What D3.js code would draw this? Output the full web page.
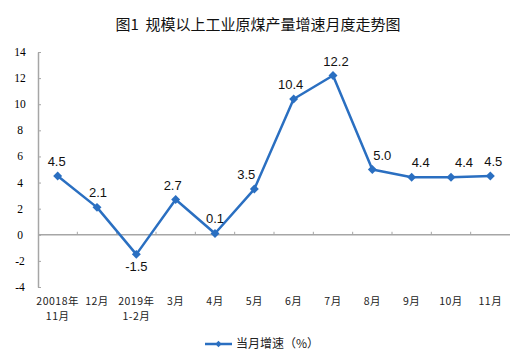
<!DOCTYPE html>
<html>
<head>
<meta charset="utf-8">
<script src="https://cdn.jsdelivr.net/npm/d3@7"></script>
<style>
  body { margin: 0; background: #fff; }
</style>
</head>
<body>
<div id="chart"></div>
<script>
// data
var months = ["20018年\n11月", "12月", "2019年\n1-2月", "3月", "4月", "5月", "6月", "7月", "8月", "9月", "10月", "11月"];
var growth = [4.5, 2.1, -1.5, 2.7, 0.1, 3.5, 10.4, 12.2, 5.0, 4.4, 4.4, 4.5];
var yTicks = [-4, -2, 0, 2, 4, 6, 8, 10, 12, 14];
var title = "图1  规模以上工业原煤产量增速月度走势图";
var seriesName = "当月增速（%）";

// where each value label sits relative to its point
var labelDx = [-1, 1, 0, -3, 0, -8, -3, 3, 10, 9, 13, 3];
var labelBelow = [false, false, true, false, false, false, false, false, false, false, false, false];

var W = 515, H = 362;
var margin = {left: 38, right: 5, top: 52, bottom: 75};
var blue = "#2a6fc1", grey = "#a6a6a6";

var svg = d3.select("#chart").append("svg")
    .attr("width", W)
    .attr("height", H);

// title
svg.append("text")
    .attr("x", 258)
    .attr("y", 30)
    .attr("text-anchor", "middle")
    .style("white-space", "pre")
    .style("font-family", "'Noto Sans CJK SC', sans-serif")
    .style("font-size", "15px")
    .style("font-weight", "normal")
    .attr("fill", "#111")
    .text(title);

var x = d3.scaleBand()
    .domain(months)
    .range([margin.left, W - margin.right]);

var y = d3.scaleLinear()
    .domain([-4, 14])
    .range([H - margin.bottom, margin.top]);

// y axis: grey line, ticks pointing inward
var yAxis = svg.append("g")
    .attr("transform", "translate(" + margin.left + ",0)")
    .call(d3.axisRight(y).tickValues(yTicks).tickSize(3).tickSizeOuter(0).tickFormat(""));
yAxis.select(".domain").attr("stroke", grey).attr("stroke-width", 1.5);
yAxis.selectAll(".tick line").attr("stroke", grey);

// y labels, serif like the original
svg.append("g").selectAll("text")
    .data(yTicks)
    .enter().append("text")
    .attr("x", 20)
    .attr("y", function(d) { return y(d); })
    .attr("dy", "0.35em")
    .attr("text-anchor", "middle")
    .style("font-family", "'Liberation Serif', serif")
    .style("font-size", "11.5px")
    .attr("fill", "#000")
    .text(function(d) { return d; });

// zero line with small tick marks at band edges
var zero = svg.append("g")
    .attr("transform", "translate(0," + y(0) + ")");
zero.append("line")
    .attr("x1", margin.left).attr("x2", W - margin.right)
    .attr("stroke", grey).attr("stroke-width", 1.5);
zero.selectAll(".zt")
    .data(months.slice(1))
    .enter().append("line")
    .attr("x1", function(d) { return x(d); })
    .attr("x2", function(d) { return x(d); })
    .attr("y1", 0).attr("y2", -3)
    .attr("stroke", grey);

// x labels under the plot, one text per line
var xLines = [];
months.forEach(function(m) {
    m.split("\n").forEach(function(p, i) { xLines.push({m: m, t: p, row: i}); });
});
svg.append("g").selectAll("text")
    .data(xLines)
    .enter().append("text")
    .attr("x", function(d) { return x(d.m) + x.bandwidth() / 2; })
    .attr("y", function(d) { return 305 + d.row * 15; })
    .attr("text-anchor", "middle")
    .style("font-family", "'Noto Sans CJK SC', sans-serif")
    .style("font-size", "10.5px")
    .style("letter-spacing", "0.5px")
    .attr("fill", "#222")
    .text(function(d) { return d.t; });

// the line
var line = d3.line()
    .x(function(d, i) { return x(months[i]) + x.bandwidth() / 2; })
    .y(function(d) { return y(d); });

svg.append("path")
    .datum(growth)
    .attr("d", line)
    .attr("fill", "none")
    .attr("stroke", blue)
    .attr("stroke-width", 2.5)
    .attr("stroke-linejoin", "round");

// diamond markers: rotated squares
var diamond = d3.symbol().type(d3.symbolSquare).size(40);
svg.append("g").selectAll("path")
    .data(growth)
    .enter().append("path")
    .attr("d", diamond)
    .attr("transform", function(d, i) {
        return "translate(" + (x(months[i]) + x.bandwidth() / 2) + "," + y(d) + ") rotate(45)";
    })
    .attr("fill", blue);

// value labels
svg.append("g").selectAll("text")
    .data(growth)
    .enter().append("text")
    .attr("x", function(d, i) { return x(months[i]) + x.bandwidth() / 2 + labelDx[i]; })
    .attr("y", function(d, i) { return y(d) + (labelBelow[i] ? 17 : -10); })
    .attr("text-anchor", "middle")
    .style("font-family", "'Liberation Sans', Arial, sans-serif")
    .style("font-size", "13px")
    .attr("fill", "#111")
    .text(function(d) { return d.toFixed(1); });

// legend
var lg = svg.append("g").attr("transform", "translate(205,344)");
lg.append("line")
    .attr("x1", 0).attr("x2", 27)
    .attr("stroke", blue).attr("stroke-width", 2.5);
lg.append("path")
    .attr("d", d3.symbol().type(d3.symbolSquare).size(20))
    .attr("transform", "translate(13.5,0) rotate(45)")
    .attr("fill", blue);
lg.append("text")
    .attr("x", 31)
    .attr("dy", "0.35em")
    .style("font-family", "'Noto Sans CJK SC', sans-serif")
    .style("font-size", "12px")
    .attr("fill", "#222")
    .text(seriesName);
</script>
</body>
</html>
